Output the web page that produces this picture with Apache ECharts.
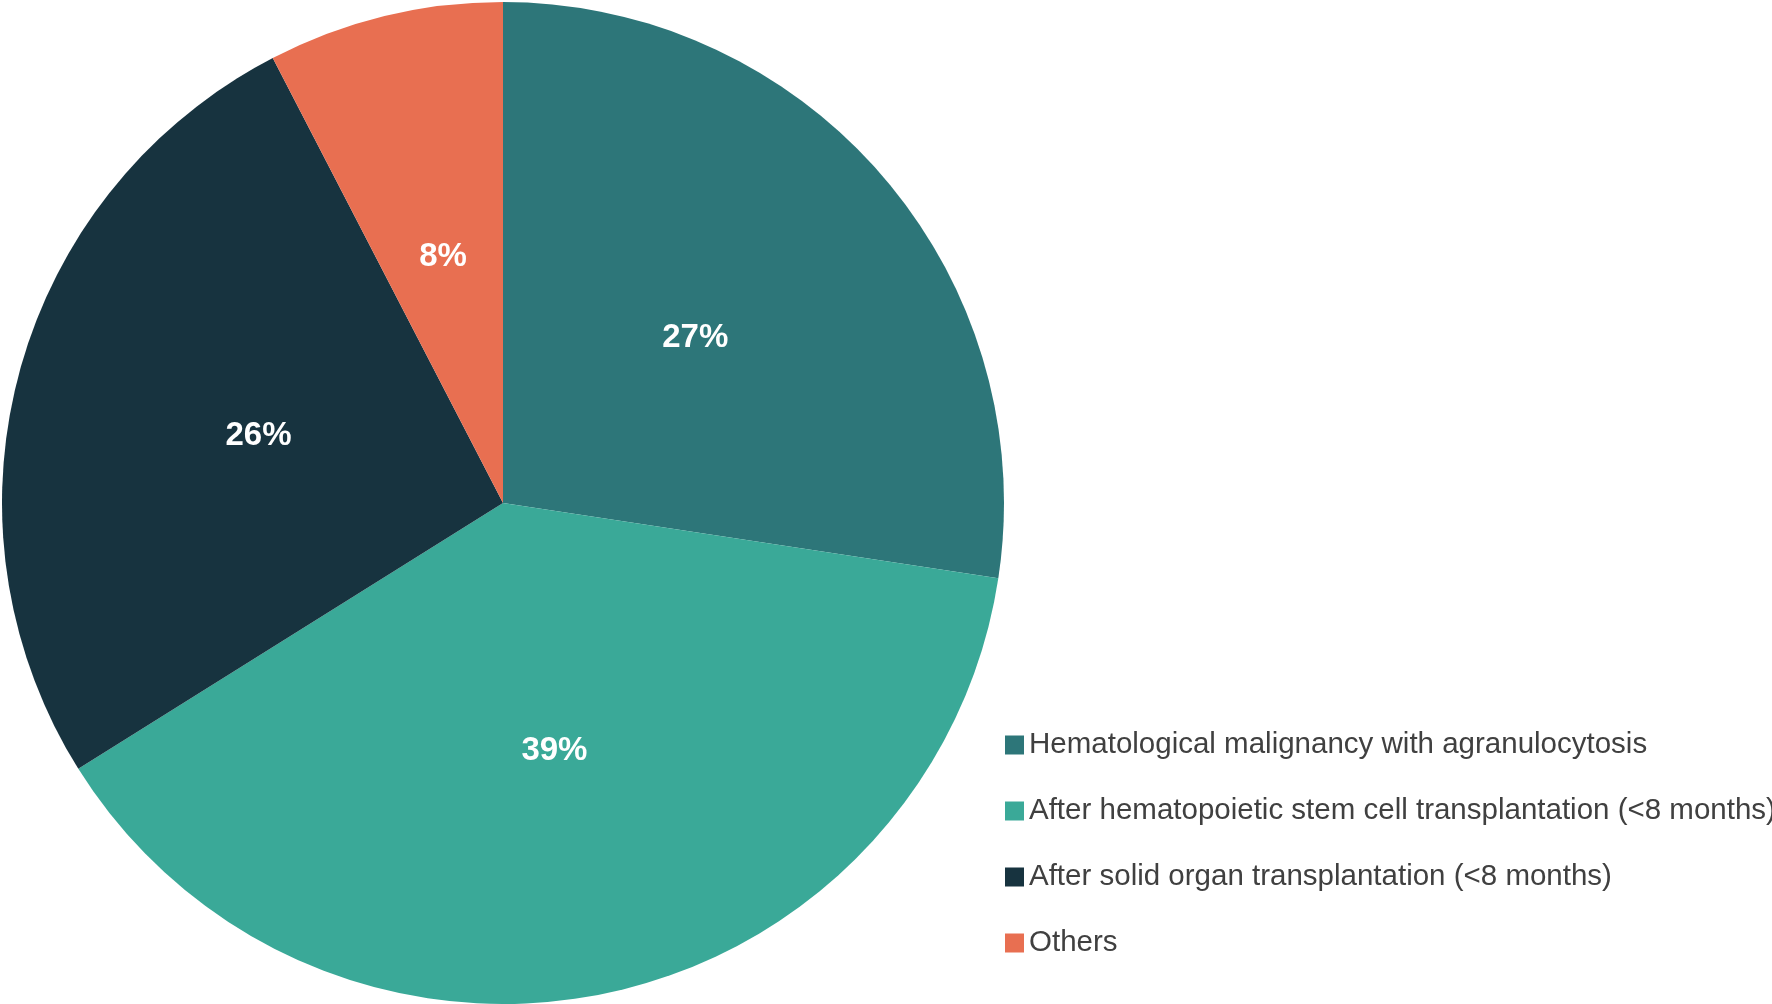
<!DOCTYPE html>
<html>
<head>
    <meta charset="utf-8" />
    <script src="https://cdn.jsdelivr.net/npm/echarts@6/dist/echarts.min.js"></script>
    <style>
        html, body { margin: 0; padding: 0; background: #fff; }
    </style>
</head>
<body>
    <div id="chart" style="width:1772px;height:1004px;"></div>
    <script type="text/javascript">
        // groups and their shares
        var categories = [
            'Hematological malignancy with agranulocytosis',
            'After hematopoietic stem cell transplantation (<8 months)',
            'After solid organ transplantation (<8 months)',
            'Others'
        ];
        var shares = [27.4, 38.7, 26.3, 7.6];
        var colors = ['#2D7679', '#3AA998', '#17333F', '#E86F51'];

        var pieData = [];
        for (var i = 0; i < categories.length; i++) {
            pieData.push({ name: categories[i], value: shares[i] });
        }

        var myChart = echarts.init(document.getElementById('chart'));
        var option = {
            animation: false,
            color: colors,
            legend: {
                orient: 'vertical',
                left: 1000,
                top: 725,
                icon: 'rect',
                itemWidth: 19,
                itemHeight: 19,
                itemGap: 36,
                selectedMode: false,
                textStyle: {
                    fontFamily: 'Liberation Sans',
                    fontSize: 29.5,
                    color: '#404040'
                },
                data: categories
            },
            series: [
                {
                    type: 'pie',
                    center: [503, 503],
                    radius: [0, 501],
                    startAngle: 90,
                    clockwise: true,
                    silent: true,
                    data: pieData,
                    label: {
                        show: true,
                        position: 'inside',
                        color: '#ffffff',
                        fontFamily: 'Liberation Sans',
                        fontWeight: 'bold',
                        fontSize: 33,
                        formatter: function (p) {
                            return Math.round(p.percent) + '%';
                        }
                    },
                    labelLine: { show: false },
                    itemStyle: { borderWidth: 0 }
                }
            ]
        };
        myChart.setOption(option);
    </script>
</body>
</html>
